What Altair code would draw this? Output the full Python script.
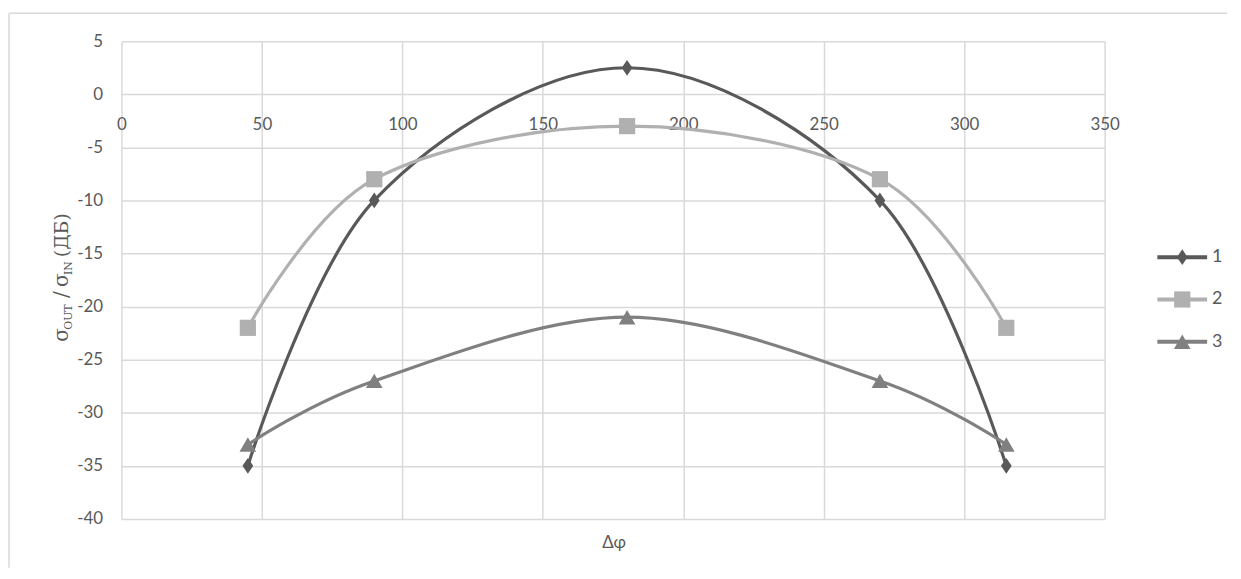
import altair as alt
import pandas as pd

# ---- data ----
phase = [45, 90, 180, 270, 315]
series_names = ["1", "2", "3"]
s1 = [-35, -10, 2.5, -10, -35]
s2 = [-22, -8, -3, -8, -22]
s3 = [-33, -27, -21, -27, -33]
x_ticks = [0, 50, 100, 150, 200, 250, 300, 350]
y_ticks = [-40, -35, -30, -25, -20, -15, -10, -5, 0, 5]

# ---- styles ----
W, H = 988, 480
colors = ["#595959", "#b0b0b0", "#808080"]
shapes = ["M0,-1L0.68,0L0,1L-0.68,0Z", "square", "triangle-up"]
sizes = [250, 280, 210]
grid_col = "#d9d9d9"
txt_col = "#595959"
FONT = "Lato"

rows = []
for name, vals in zip(series_names, [s1, s2, s3]):
    for p, v in zip(phase, vals):
        rows.append({"phase": p, "value": v, "series": name})
df = pd.DataFrame(rows)
leg = pd.DataFrame({"series": series_names, "row": list(range(len(series_names)))})
one = pd.DataFrame({"k": [0]})

color = alt.Color("series:N", scale=alt.Scale(domain=series_names, range=colors), legend=None)
shape = alt.Shape("series:N", scale=alt.Scale(domain=series_names, range=shapes), legend=None)
size = alt.Size("series:O", scale=alt.Scale(domain=series_names, range=sizes), legend=None)

x_scale = alt.Scale(domain=[0, 350], nice=False, zero=False)
y_scale = alt.Scale(domain=[-40, 5], nice=False, zero=False)

zero_offset = H * 5 / 45 - H  # put the x axis at y = 0

y_axis = alt.Axis(values=y_ticks, grid=True, domain=False, ticks=False,
                  labelPadding=19, labelFlush=False, title=None,
                  labelExpr="toString(datum.value)")

lines = alt.Chart(df).mark_line(interpolate="cardinal", strokeWidth=3.2).encode(
    x=alt.X("phase:Q", scale=x_scale,
            axis=alt.Axis(values=x_ticks, grid=False, domain=False, ticks=False,
                          labelPadding=22, labelFlush=False, offset=zero_offset,
                          title=None, labelExpr="toString(datum.value)")),
    y=alt.Y("value:Q", scale=y_scale, axis=y_axis),
    color=color,
)

points = alt.Chart(df).mark_point(filled=True, opacity=1).encode(
    x=alt.X("phase:Q", scale=x_scale,
            axis=alt.Axis(values=x_ticks, grid=True, labels=False, domain=False,
                          ticks=False, title=None)),
    y=alt.Y("value:Q", scale=y_scale, axis=y_axis),
    color=color, shape=shape, size=size,
)

main = alt.layer(lines, points).resolve_axis(x="independent")

ly = alt.Y("row:Q", scale=alt.Scale(domain=[0, 2], range=[217, 302], nice=False, zero=False),
           axis=None)
leg_rule = alt.Chart(leg).mark_rule(strokeWidth=4).encode(
    x=alt.value(1041), x2=alt.value(1091), y=ly, color=color)
leg_pt = alt.Chart(leg).mark_point(filled=True, opacity=1).encode(
    x=alt.value(1066), y=ly, color=color, shape=shape, size=size)
leg_txt = alt.Chart(leg).mark_text(align="left", baseline="middle", font=FONT,
                                   fontSize=18, color=txt_col).encode(
    x=alt.value(1096), y=ly, text="series:N")
legend = alt.layer(leg_rule, leg_pt, leg_txt)

frame_top = alt.Chart(one).mark_rule(color=grid_col, strokeWidth=1.5).encode(
    x=alt.value(-113), x2=alt.value(1111), y=alt.value(-28))
frame_left = alt.Chart(one).mark_rule(color=grid_col, strokeWidth=1.5).encode(
    x=alt.value(-113), y=alt.value(-28), y2=alt.value(529))

# x axis title
x_title = alt.Chart(one).mark_text(align="center", baseline="middle", font=FONT,
                                   fontSize=17, color=txt_col, text="Δφ").encode(
    x=alt.value(495), y=alt.value(504))

# y axis title: σ_OUT /σ_IN (ДБ) with subscripts, rotated
SERIF = "DejaVu Serif"
def ypiece(txt, ypos, xpos, fs):
    return alt.Chart(one).mark_text(align="left", baseline="alphabetic", angle=270,
                                    font=SERIF, fontSize=fs, color=txt_col, text=txt).encode(
        x=alt.value(xpos), y=alt.value(ypos))

y_title = alt.layer(
    ypiece("σ", 302, -54, 20),
    ypiece("OUT", 290, -50, 11),
    ypiece("/", 258, -54, 20),
    ypiece("σ", 247, -54, 20),
    ypiece("IN", 235, -50, 11),
    ypiece("(ДБ)", 217, -54, 19),
)

chart = alt.layer(main, legend, frame_top, frame_left, x_title, y_title).resolve_scale(
    y="independent"
).properties(
    width=W, height=H,
    padding={"left": 0, "top": 3, "right": 5, "bottom": 5},
).configure_view(stroke=None).configure_axis(
    gridColor=grid_col, gridWidth=1.5, labelFont=FONT, labelFontSize=17, labelColor=txt_col,
)

chart.save("out.html", embed_options={"renderer": "svg", "actions": False})
